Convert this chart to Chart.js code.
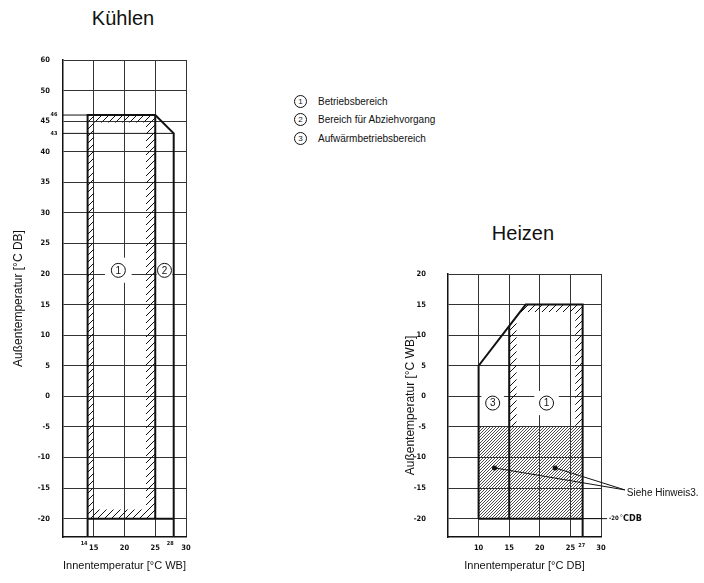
<!DOCTYPE html>
<html>
<head>
<meta charset="utf-8">
<script src="https://cdn.jsdelivr.net/npm/chart.js@4.4.1/dist/chart.umd.min.js"></script>
<style>
  body { margin: 0; background: #fff; width: 704px; height: 583px; position: relative; overflow: hidden;
         font-family: "Liberation Sans", Arial, sans-serif; color: #111; }
  canvas { position: absolute; }
  #cool { left: 0; top: 0; }
  #heat { left: 360px; top: 200px; }
  .title { position: absolute; width: 200px; font-size: 20px; line-height: 24px; text-align: center; }
  .legend { position: absolute; left: 294px; top: 92px; font-size: 10px; z-index: 2; }
  .legend div { height: 18.5px; display: flex; align-items: center; white-space: nowrap; }
  .legend .c { display: inline-block; width: 11px; height: 11px; border: 1px solid #111; border-radius: 50%;
               font-size: 8px; line-height: 11px; text-align: center; margin-right: 11px; }
</style>
</head>
<body>
<div class="title" style="left:23px;top:6px">Kühlen</div>
<div class="title" style="left:423px;top:221px">Heizen</div>
<div class="legend">
  <div><span class="c">1</span>Betriebsbereich</div>
  <div><span class="c">2</span>Bereich für Abziehvorgang</div>
  <div><span class="c">3</span>Aufwärmbetriebsbereich</div>
</div>
<canvas id="cool" width="290" height="583"></canvas>
<canvas id="heat" width="344" height="383"></canvas>
<script>
// Kühlen: axis ticks (top gridline sits at 55 but is labelled 60 in the original)
const coolXTicks = [15, 20, 25, 30];
const coolYTicks = [-20, -15, -10, -5, 0, 5, 10, 15, 20, 25, 30, 35, 40, 45, 50, 55];
const coolYLabels = ['-20', '-15', '-10', '-5', '0', '5', '10', '15', '20', '25', '30', '35', '40', '45', '50', '60'];
const coolSmallX = [14, 28];
const coolSmallY = [46, 43];

// Kühlen: ranges
const coolOuter = [[14, -23], [14, 46], [25, 46], [28, 43], [28, -23]];
const coolInnerRight = [[25, 46], [25, -20]];
const coolFloor = [[14, -20], [28, -20]];
const coolGuide46 = [[10, 46], [14, 46]];
const coolGuide43 = [[10, 43], [28, 43]];
const coolHatchLeft = [[14, -20], [14, 46], [15, 46], [15, -20]];
const coolHatchTop = [[14, 46], [25, 46], [25, 44.8], [14, 44.8]];
const coolHatchRight = [[23.5, -20], [23.5, 46], [25, 46], [25, -20]];
const coolHatchBottom = [[14, -20], [25, -20], [25, -18.5], [14, -18.5]];

// Heizen: axis ticks
const heatXTicks = [10, 15, 20, 25, 30];
const heatYTicks = [-20, -15, -10, -5, 0, 5, 10, 15, 20];
const heatSmallX = [27];

// Heizen: ranges
const heatOuter = [[10, -20], [10, 5], [17.7, 15], [27, 15], [27, -23]];
const heatInnerLeft = [[15, 11.5], [15, -20]];
const heatFloor = [[10, -20], [27, -20]];
const heatFloorExt = [[27, -20], [31, -20]];
const heatDefrost = [[10, -20], [10, -5], [27, -5], [27, -20]];
const heatHatchLeft = [[15, -5], [15, 11.5], [16.2, 13], [16.2, -5]];
const heatHatchRight = [[25.8, -5], [25.8, 15], [27, 15], [27, -5]];
const heatHatchTop = [[17.7, 15], [27, 15], [27, 13.8], [16.8, 13.8]];
const noteLeader1 = [[12.6, -11.7], [33.9, -15.3]];
const noteLeader2 = [[22.5, -11.7], [33.9, -15.3]];

// circled area numbers
const coolMarks = [{ t: '1', x: 19, y: 20.6, halo: 14 }, { t: '2', x: 26.5, y: 20.6, halo: 9 }];
const heatMarks = [{ t: '3', x: 12.3, y: -1.1, halo: 13 }, { t: '1', x: 21.1, y: -1.1, halo: 14 }];

const INK = '#111';
const NARROW = "'Liberation Sans Narrow','DejaVu Sans Condensed',sans-serif";
const SANS = "'Liberation Sans',Arial,sans-serif";
const tickFont = { family: NARROW, size: 7.5, weight: 'bold' };

function makeHatch(step, color, width) {
  const c = document.createElement('canvas');
  c.width = step; c.height = step;
  const g = c.getContext('2d');
  g.strokeStyle = color; g.lineWidth = width;
  g.beginPath();
  g.moveTo(-1, step + 1); g.lineTo(step + 1, -1);
  g.moveTo(-1, 1); g.lineTo(1, -1);
  g.moveTo(step - 1, step + 1); g.lineTo(step + 1, step - 1);
  g.stroke();
  return g.createPattern(c, 'repeat');
}
const coarse = makeHatch(7, '#111', 1);
const fine = makeHatch(3, '#3a3a3a', 0.9);

function seg(points, width, extra) {
  return Object.assign({
    data: points.map(p => ({ x: p[0], y: p[1] })),
    showLine: true, borderColor: INK, borderWidth: width,
    pointRadius: 0, fill: false, tension: 0
  }, extra || {});
}
function hatch(points, pattern) {
  return seg(points, 0, { fill: 'shape', backgroundColor: pattern, borderColor: 'rgba(0,0,0,0)' });
}

function axisX(min, max, ticks, title) {
  return {
    type: 'linear', min, max,
    afterBuildTicks: s => { s.ticks = ticks.map(v => ({ value: v })); },
    afterFit: s => { s.height = 46; },
    grid: { color: '#333', lineWidth: 1, drawTicks: false },
    border: { color: INK, width: 1.5 },
    ticks: { padding: 7, font: tickFont, color: INK, maxRotation: 0, autoSkip: false },
    title: { display: true, text: title, font: { family: SANS, size: 11 }, color: INK, padding: { top: 0, bottom: 10 } }
  };
}
function axisY(min, max, ticks, labels, width, pad, title, titlePad) {
  return {
    type: 'linear', min, max,
    afterBuildTicks: s => { s.ticks = ticks.map(v => ({ value: v })); },
    afterFit: s => { s.width = width; },
    grid: { color: '#333', lineWidth: 1, drawTicks: false },
    border: { color: INK, width: 1.5 },
    ticks: { padding: pad, font: tickFont, color: INK, autoSkip: false,
             callback: v => labels[ticks.indexOf(v)] },
    title: { display: true, text: title, font: { family: SANS, size: 12 }, color: INK, padding: { top: titlePad, bottom: 0 } }
  };
}

function marksPlugin(marks, extra) {
  return {
    id: 'marks',
    beforeDatasetsDraw(chart) {
      const { ctx, scales: { x, y } } = chart;
      ctx.save();
      ctx.fillStyle = '#fff';
      marks.forEach(m => {
        ctx.beginPath();
        ctx.arc(x.getPixelForValue(m.x), y.getPixelForValue(m.y), m.halo, 0, Math.PI * 2);
        ctx.fill();
      });
      ctx.restore();
    },
    afterDatasetsDraw(chart) {
      const { ctx, scales: { x, y } } = chart;
      ctx.save();
      marks.forEach(m => {
        const px = x.getPixelForValue(m.x), py = y.getPixelForValue(m.y);
        ctx.beginPath();
        ctx.arc(px, py, 7, 0, Math.PI * 2);
        ctx.fillStyle = '#fff'; ctx.fill();
        ctx.strokeStyle = INK; ctx.lineWidth = 1; ctx.stroke();
        ctx.fillStyle = INK;
        ctx.font = '10px ' + SANS;
        ctx.textAlign = 'center'; ctx.textBaseline = 'middle';
        ctx.fillText(m.t, px, py + 0.5);
      });
      extra(chart, ctx, x, y);
      ctx.restore();
    }
  };
}

const coolChart = new Chart(document.getElementById('cool'), {
  type: 'scatter',
  data: {
    datasets: [
      seg(coolOuter, 2),
      seg(coolInnerRight, 2),
      seg(coolFloor, 2),
      seg(coolGuide46, 1),
      seg(coolGuide43, 1),
      hatch(coolHatchLeft, coarse),
      hatch(coolHatchTop, coarse),
      hatch(coolHatchRight, coarse),
      hatch(coolHatchBottom, coarse)
    ]
  },
  options: {
    responsive: false, animation: false, events: [],
    layout: { padding: { top: 60, right: 104, left: 0, bottom: 0 } },
    plugins: { legend: { display: false }, tooltip: { enabled: false } },
    scales: {
      x: axisX(10, 30, coolXTicks, 'Innentemperatur [°C WB]'),
      y: axisY(-23, 55, coolYTicks, coolYLabels, 63, 13, 'Außentemperatur [°C DB]', 11)
    }
  },
  plugins: [marksPlugin(coolMarks, (chart, ctx, x, y) => {
    const a = chart.chartArea;
    ctx.fillStyle = INK;
    ctx.font = 'bold 5.5px ' + NARROW;
    ctx.textAlign = 'center'; ctx.textBaseline = 'middle';
    coolSmallY.forEach(v => ctx.fillText(String(v), a.left - 9, y.getPixelForValue(v)));
    coolSmallX.forEach(v => ctx.fillText(String(v), x.getPixelForValue(v) - 3.5, a.bottom + 7));
  })]
});

const heatChart = new Chart(document.getElementById('heat'), {
  type: 'scatter',
  data: {
    datasets: [
      seg(heatOuter, 2),
      seg(heatInnerLeft, 2),
      seg(heatFloor, 2),
      seg(heatFloorExt, 1, { clip: false }),
      seg(noteLeader1, 1, { clip: false, pointRadius: [2.5, 0], pointBackgroundColor: INK, pointBorderWidth: 0 }),
      seg(noteLeader2, 1, { clip: false, pointRadius: [2.5, 0], pointBackgroundColor: INK, pointBorderWidth: 0 }),
      hatch(heatHatchLeft, coarse),
      hatch(heatHatchRight, coarse),
      hatch(heatHatchTop, coarse),
      hatch(heatDefrost, fine)
    ]
  },
  options: {
    responsive: false, animation: false, events: [],
    layout: { padding: { top: 74, right: 103, left: 0, bottom: 0 } },
    plugins: { legend: { display: false }, tooltip: { enabled: false } },
    scales: {
      x: axisX(5, 30, heatXTicks, 'Innentemperatur [°C DB]'),
      y: axisY(-23, 20, heatYTicks, heatYTicks.map(String), 88, 22, 'Außentemperatur [°C WB]', 43)
    }
  },
  plugins: [marksPlugin(heatMarks, (chart, ctx, x, y) => {
    const a = chart.chartArea;
    ctx.fillStyle = INK;
    ctx.textBaseline = 'middle';
    ctx.textAlign = 'center';
    ctx.font = 'bold 5.5px ' + NARROW;
    heatSmallX.forEach(v => ctx.fillText(String(v), x.getPixelForValue(v) - 1, a.bottom + 9));
    // -20 °CDB mark at the end of the extended -20 line
    const ex = x.getPixelForValue(heatFloorExt[1][0]) + 2;
    const ey = y.getPixelForValue(heatFloorExt[1][1]);
    ctx.textAlign = 'left';
    ctx.font = 'bold 6px ' + NARROW;
    ctx.fillText('-20', ex, ey);
    ctx.font = '7px ' + SANS;
    ctx.fillText('°', ex + 11, ey - 1);
    ctx.font = 'bold 9px ' + NARROW;
    ctx.fillText('CDB', ex + 14, ey);
    // note text at the end of the leader lines
    ctx.font = '10px ' + SANS;
    ctx.fillText('Siehe Hinweis3.', x.getPixelForValue(noteLeader1[1][0]) + 2, y.getPixelForValue(noteLeader1[1][1]) + 3);
  })]
});
</script>
</body>
</html>
